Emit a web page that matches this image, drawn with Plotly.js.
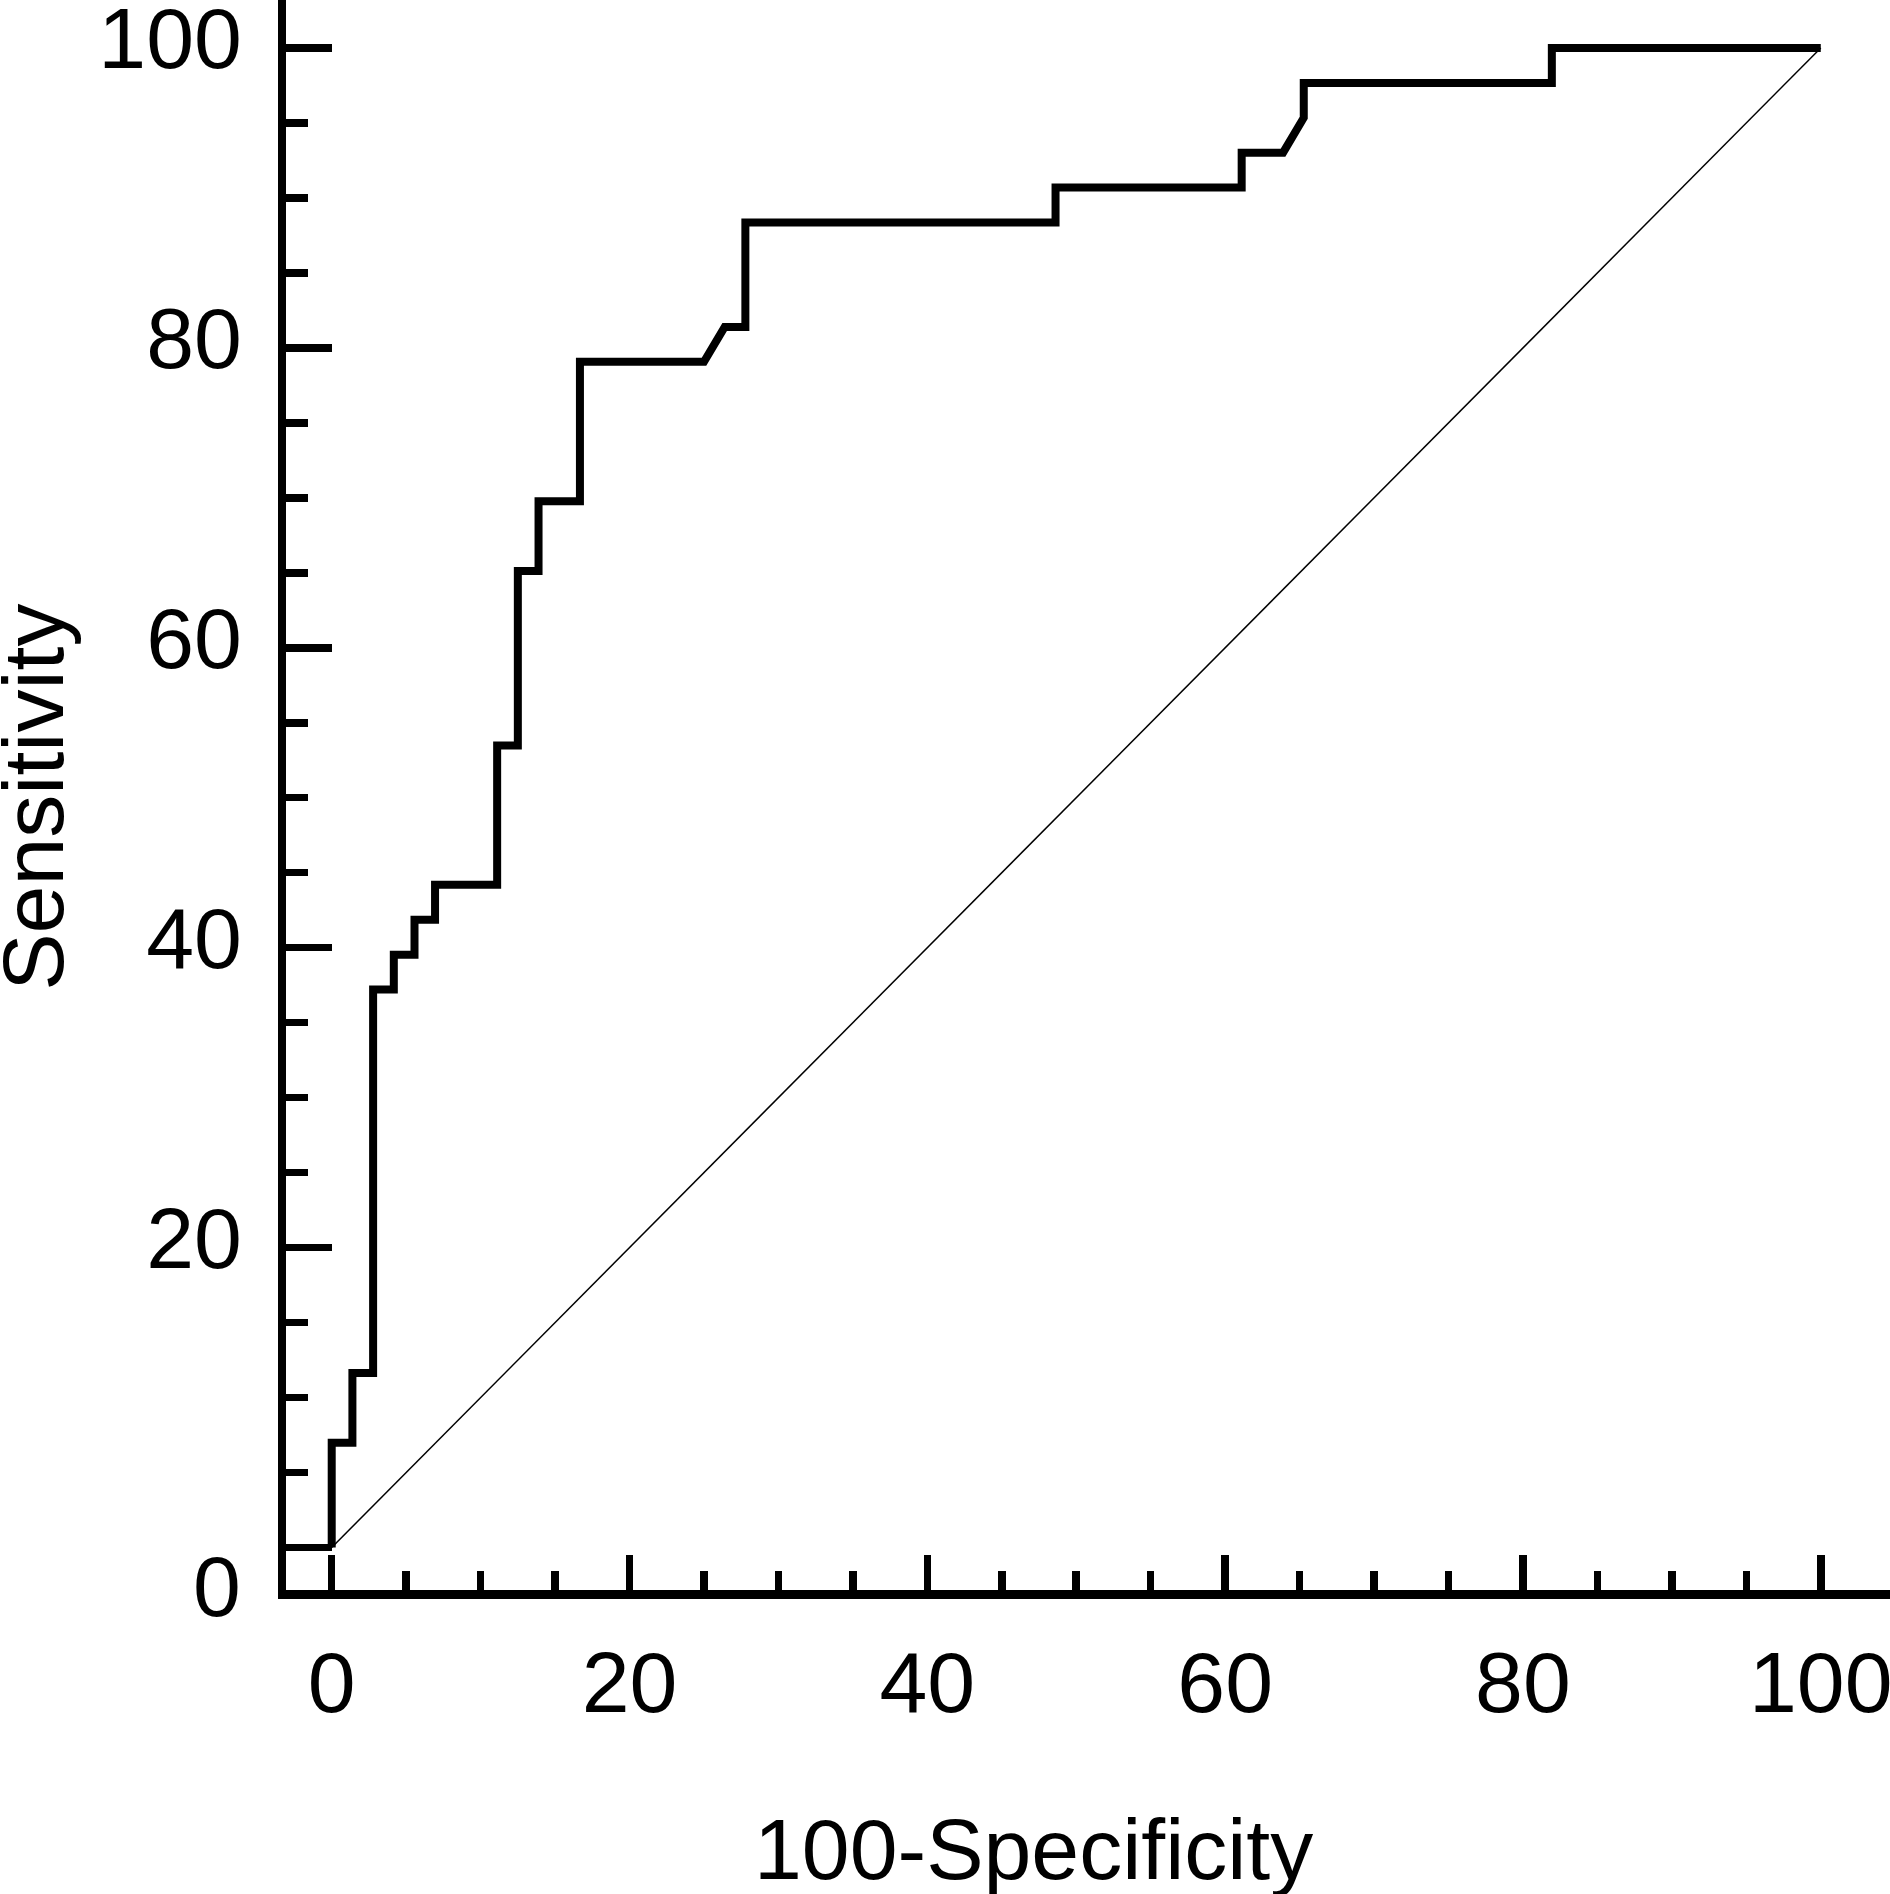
<!DOCTYPE html>
<html>
<head>
<meta charset="utf-8">
<script src="https://cdn.plot.ly/plotly-3.0.1.min.js"></script>
<style>
  html, body { margin: 0; padding: 0; background: #fff; }
  #chart { width: 1890px; height: 1894px; }
</style>
</head>
<body>
<div id="chart"></div>
<script>
// ROC curve points (100-Specificity, Sensitivity)
const fpr = [0, 0, 1.39, 1.39, 2.78, 2.78, 4.17, 4.17, 5.56, 5.56, 6.94, 6.94,
    11.11, 11.11, 12.50, 12.50, 13.89, 13.89, 16.67, 16.67, 25.00, 26.39, 27.78, 27.78,
    48.61, 48.61, 61.11, 61.11, 63.89, 65.28, 65.28, 81.94, 81.94, 100];
const sensitivity = [0, 6.98, 6.98, 11.63, 11.63, 37.21, 37.21, 39.53, 39.53, 41.86, 41.86, 44.19,
    44.19, 53.49, 53.49, 65.12, 65.12, 69.77, 69.77, 79.07, 79.07, 81.40, 81.40, 88.37,
    88.37, 90.70, 90.70, 93.02, 93.02, 95.35, 97.67, 97.67, 100, 100];

// reference (chance) line
const refX = [0, 100];
const refY = [0, 100];

const xTickVals = [0, 20, 40, 60, 80, 100];
const xTickText = ['0', '20', '40', '60', '80', '100'];
const yTickVals = [0, 20, 40, 60, 80, 100];
const yTickText = ['', '20', '40', '60', '80', '100'];

const FONT = 'Liberation Sans, Arial, Helvetica, sans-serif';
const FS = 86;

// plot area in pixels, used to place the free-standing labels
const PLOT_L = 286, PLOT_B = 1590, PLOT_W = 1890 - 286;

const traces = [
    {
        x: refX,
        y: refY,
        type: 'scatter',
        mode: 'lines',
        line: { color: '#000', width: 1.5 },
        hoverinfo: 'skip'
    },
    {
        x: fpr,
        y: sensitivity,
        type: 'scatter',
        mode: 'lines',
        line: { color: '#000', width: 8 }
    }
];

const layout = {
    width: 1890,
    height: 1894,
    margin: { l: PLOT_L, r: 0, t: 0, b: 1894 - PLOT_B },
    paper_bgcolor: '#fff',
    plot_bgcolor: '#fff',
    showlegend: false,
    font: { family: FONT, size: FS, color: '#000' },
    xaxis: {
        range: [-3.07, 104.65],
        showgrid: false,
        zeroline: false,
        showline: true,
        linecolor: '#000',
        linewidth: 8.5,
        tickmode: 'array',
        tickvals: xTickVals,
        ticktext: xTickText,
        ticks: 'inside',
        ticklen: 35,
        tickwidth: 7.5,
        tickcolor: '#000',
        ticklabelstandoff: 10,
        ticklabeloverflow: 'allow',
        tickfont: { family: FONT, size: FS, color: '#000' },
        minor: { tickmode: 'linear', tick0: 0, dtick: 5, ticks: 'inside', ticklen: 19, tickwidth: 7.5, tickcolor: '#000', showgrid: false },
        fixedrange: true
    },
    yaxis: {
        range: [-2.834, 103.2],
        showgrid: false,
        zeroline: false,
        showline: true,
        linecolor: '#000',
        linewidth: 8,
        tickmode: 'array',
        tickvals: yTickVals,
        ticktext: yTickText,
        ticks: 'inside',
        ticklen: 46,
        tickwidth: 7.5,
        tickcolor: '#000',
        ticklabelstandoff: 19,
        ticklabelshift: -10,
        ticklabeloverflow: 'allow',
        tickfont: { family: FONT, size: FS, color: '#000' },
        minor: { tickmode: 'linear', tick0: 0, dtick: 5, ticks: 'inside', ticklen: 22, tickwidth: 7.5, tickcolor: '#000', showgrid: false },
        fixedrange: true
    },
    annotations: [
        {   // the y "0" label sits at the level of the x axis in the original
            text: '0',
            xref: 'paper', yref: 'paper',
            x: (243 - PLOT_L) / PLOT_W, y: (PLOT_B - 1586) / PLOT_B,
            xanchor: 'right', yanchor: 'middle',
            showarrow: false,
            font: { family: FONT, size: FS, color: '#000' }
        },
        {
            text: '100-Specificity',
            xref: 'x', yref: 'paper',
            x: 47.1, y: (PLOT_B - 1849) / PLOT_B,
            xanchor: 'center', yanchor: 'middle',
            showarrow: false,
            font: { family: FONT, size: FS, color: '#000' }
        },
        {
            text: 'Sensitivity',
            xref: 'paper', yref: 'y',
            x: (33 - PLOT_L) / PLOT_W, y: 50,
            xanchor: 'center', yanchor: 'middle',
            textangle: -90,
            showarrow: false,
            font: { family: FONT, size: FS, color: '#000' }
        }
    ]
};

Plotly.newPlot('chart', traces, layout, { staticPlot: true, displayModeBar: false });
</script>
</body>
</html>
